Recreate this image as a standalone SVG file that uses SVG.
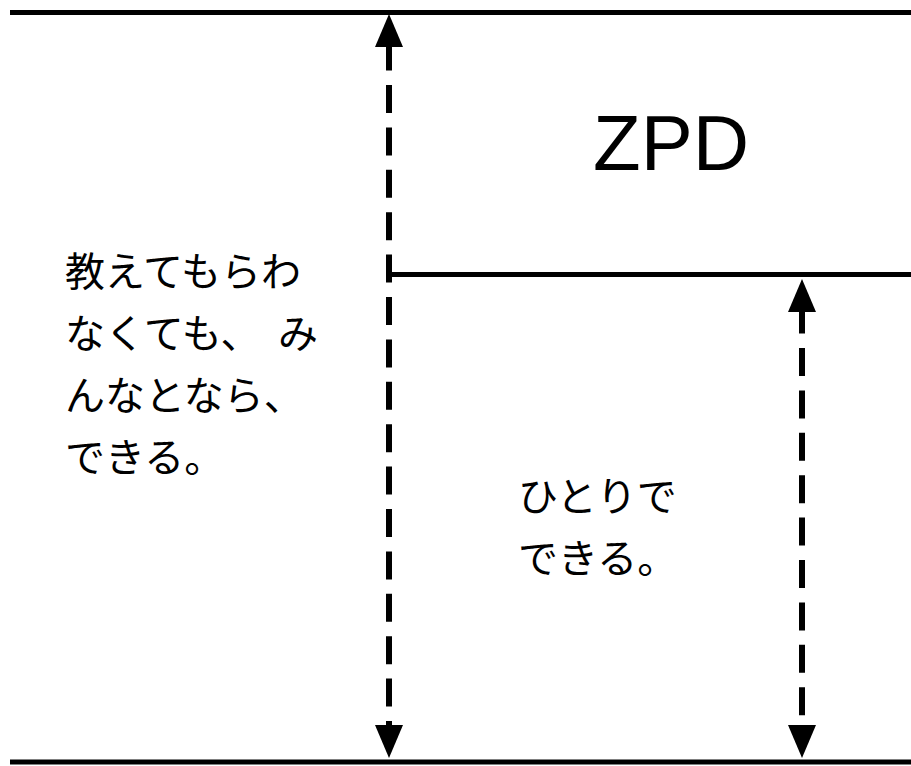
<svg xmlns="http://www.w3.org/2000/svg" width="911" height="766" viewBox="0 0 911 766">
<style>
.rule{stroke:#000;stroke-width:5;fill:none}
.dash{stroke:#000;stroke-width:6;fill:none;stroke-dasharray:28 14.4}
.jp{font-family:"Noto Sans CJK JP","Noto Sans",sans-serif;font-size:40px;fill:#000}
.zpd{font-family:"Liberation Sans",Arial,sans-serif;font-size:78px;fill:#000}
</style>
<defs>
<marker id="ah" markerUnits="userSpaceOnUse" viewBox="0 0 33 28" markerWidth="33" markerHeight="28" refX="0" refY="14" orient="auto-start-reverse">
<path d="M0,0 L33,14 L0,28 z" fill="#000"/>
</marker>
</defs>
<rect width="911" height="766" fill="#fff"/>
<g id="levels">
<line class="rule" x1="10" y1="12.5" x2="911" y2="12.5"/>
<line class="rule" x1="389" y1="274.5" x2="911" y2="274.5"/>
<line class="rule" x1="10" y1="762" x2="911" y2="762"/>
</g>
<g id="connectors">
<line class="dash" x1="389" y1="47" x2="389" y2="725" stroke-dashoffset="4.4" marker-start="url(#ah)" marker-end="url(#ah)"/>
<line class="dash" x1="802" y1="312" x2="802" y2="725" stroke-dashoffset="6.4" marker-start="url(#ah)" marker-end="url(#ah)"/>
</g>
<g id="zpd-label">
<text class="zpd" x="671" y="170" text-anchor="middle">ZPD</text>
</g>
<g id="with-others">
<text class="jp" x="65" y="286">教えてもらわ</text>
<text class="jp" x="65" y="348">なくても、<tspan x="278">み</tspan></text>
<text class="jp" x="65" y="410">んなとなら、</text>
<text class="jp" x="65" y="472">できる。</text>
</g>
<g id="alone">
<text class="jp" x="518" y="511">ひとりで</text>
<text class="jp" x="518" y="573">できる。</text>
</g>
</svg>
